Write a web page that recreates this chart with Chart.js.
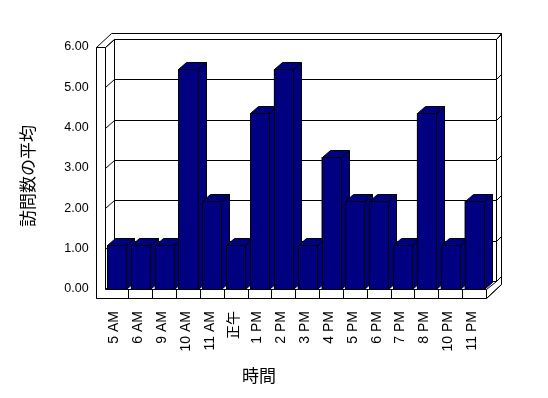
<!DOCTYPE html>
<html>
<head>
<meta charset="utf-8">
<script src="https://cdn.jsdelivr.net/npm/chart.js@4.4.3/dist/chart.umd.min.js"></script>
<style>
  html, body { margin: 0; padding: 0; background: #fff; }
  canvas { display: block; }
</style>
</head>
<body>
<canvas id="chart" width="548" height="398"></canvas>
<script>
const categories = ['5 AM', '6 AM', '9 AM', '10 AM', '11 AM', '正午', '1 PM', '2 PM',
                    '3 PM', '4 PM', '5 PM', '6 PM', '7 PM', '8 PM', '10 PM', '11 PM'];
const averageVisits = [1.09, 1.09, 1.09, 5.45, 2.18, 1.09, 4.36, 5.45,
                       1.09, 3.27, 2.18, 2.18, 1.09, 4.36, 1.09, 2.18];
const yTicks = [0, 1, 2, 3, 4, 5, 6];
const xTitle = '時間';
const yTitle = '訪問数の平均';

const yTickFont = { family: "'Liberation Sans', 'Noto Sans CJK JP'", size: 12.5 };
const xTickFont = { family: "'Liberation Sans', 'Noto Sans CJK JP'", size: 14 };
const titleFont = "17px 'Noto Sans CJK JP'";

// oblique depth of the walls and of the bars
const wallDepth = { x: 9.5, y: -8 };
const barDepth = { x: 8, y: -7 };
const px = v => Math.round(v) + 0.5;

function line(ctx, pts) {
    ctx.beginPath();
    ctx.moveTo(px(pts[0][0]), px(pts[0][1]));
    for (let i = 1; i < pts.length; i++) ctx.lineTo(px(pts[i][0]), px(pts[i][1]));
    ctx.stroke();
}

function poly(ctx, pts, fill) {
    ctx.beginPath();
    ctx.moveTo(px(pts[0][0]), px(pts[0][1]));
    for (let i = 1; i < pts.length; i++) ctx.lineTo(px(pts[i][0]), px(pts[i][1]));
    ctx.closePath();
    ctx.fillStyle = fill;
    ctx.fill();
    ctx.stroke();
}

const box3d = {
    id: 'box3d',
    beforeDatasetsDraw(chart) {
        const ctx = chart.ctx;
        const { left, right, top, bottom } = chart.chartArea;
        const yScale = chart.scales.y;
        const L0 = left - 8.5;
        const bx = wallDepth.x, by = wallDepth.y;
        const Rb = right + bx;
        const Ro = right + 15;
        const floorH = 9;
        ctx.save();
        ctx.strokeStyle = '#000';
        ctx.lineWidth = 1;

        // outer silhouette
        poly(ctx, [[L0, top], [L0 + 15, top - 14], [Ro, top - 14], [Ro, bottom + floorH - 14],
                   [right, bottom + floorH], [L0, bottom + floorH]], '#fff');

        // back wall inner face
        line(ctx, [[left + bx, bottom + by], [left + bx, top + by], [Rb, top + by], [Rb, bottom + by]]);
        line(ctx, [[Rb, top + by], [Ro, top - 14]]);
        // left wall top
        line(ctx, [[left, top], [left + bx, top + by]]);
        // floor
        line(ctx, [[left + bx, bottom + by], [Rb, bottom + by], [right, bottom]]);

        // gridlines on side wall and back wall
        yTicks.forEach(v => {
            const yf = yScale.getPixelForValue(v);
            line(ctx, [[L0, yf], [left, yf], [left + bx, yf + by], [Rb, yf + by], [Ro, yf + by - 5]]);
        });

        // front faces of left wall and floor
        poly(ctx, [[L0, top], [left, top], [left, bottom], [right, bottom],
                   [right, bottom + floorH], [L0, bottom + floorH]], '#fff');
        line(ctx, [[right, bottom + floorH], [Ro, bottom + floorH - 14]]);
        const step = (right - left) / categories.length;
        for (let k = 1; k < categories.length; k++) {
            const x = left + k * step;
            line(ctx, [[x, bottom], [x, bottom + floorH]]);
        }
        ctx.restore();
    },
    afterDatasetsDraw(chart) {
        const ctx = chart.ctx;
        const meta = chart.getDatasetMeta(0);
        const color = chart.data.datasets[0].backgroundColor;
        ctx.save();
        ctx.strokeStyle = '#000';
        ctx.lineWidth = 1;
        meta.data.forEach(bar => {
            const x1 = bar.x - bar.width / 2;
            const x2 = bar.x + bar.width / 2;
            const yt = bar.y, yb = bar.base;
            const dx = barDepth.x, dy = barDepth.y;
            poly(ctx, [[x2, yb], [x2 + dx, yb + dy], [x2 + dx, yt + dy], [x2, yt]], color);
            poly(ctx, [[x1, yt], [x1 + dx, yt + dy], [x2 + dx, yt + dy], [x2, yt]], color);
            poly(ctx, [[x1, yt], [x2, yt], [x2, yb], [x1, yb]], color);
        });

        // axis titles
        ctx.fillStyle = '#000';
        ctx.font = titleFont;
        ctx.textAlign = 'center';
        ctx.textBaseline = 'middle';
        ctx.fillText(xTitle, 259, 376);
        ctx.translate(28, 176);
        ctx.rotate(-Math.PI / 2);
        ctx.fillText(yTitle, 0, 0);
        ctx.restore();
    }
};

new Chart(document.getElementById('chart'), {
    type: 'bar',
    data: {
        labels: categories,
        datasets: [{
            data: averageVisits,
            backgroundColor: '#000080',
            borderColor: '#000',
            borderWidth: 0,
            barPercentage: 0.8,
            categoryPercentage: 1
        }]
    },
    options: {
        responsive: false,
        animation: false,
        events: [],
        layout: { padding: { left: 0, right: 62, top: 47, bottom: 0 } },
        plugins: {
            legend: { display: false },
            tooltip: { enabled: false }
        },
        scales: {
            x: {
                grid: { display: false },
                border: { display: false },
                ticks: {
                    autoSkip: false,
                    minRotation: 90,
                    maxRotation: 90,
                    padding: 14,
                    labelOffset: -2,
                    color: '#000',
                    font: xTickFont
                },
                afterFit: s => { s.height = 109; }
            },
            y: {
                min: 0,
                max: 6,
                grid: { display: false },
                border: { display: false },
                ticks: {
                    stepSize: 1,
                    padding: 8,
                    color: '#000',
                    font: yTickFont,
                    callback: v => v.toFixed(2)
                },
                afterFit: s => { s.width = 104.6; }
            }
        }
    },
    plugins: [box3d]
});
</script>
</body>
</html>
